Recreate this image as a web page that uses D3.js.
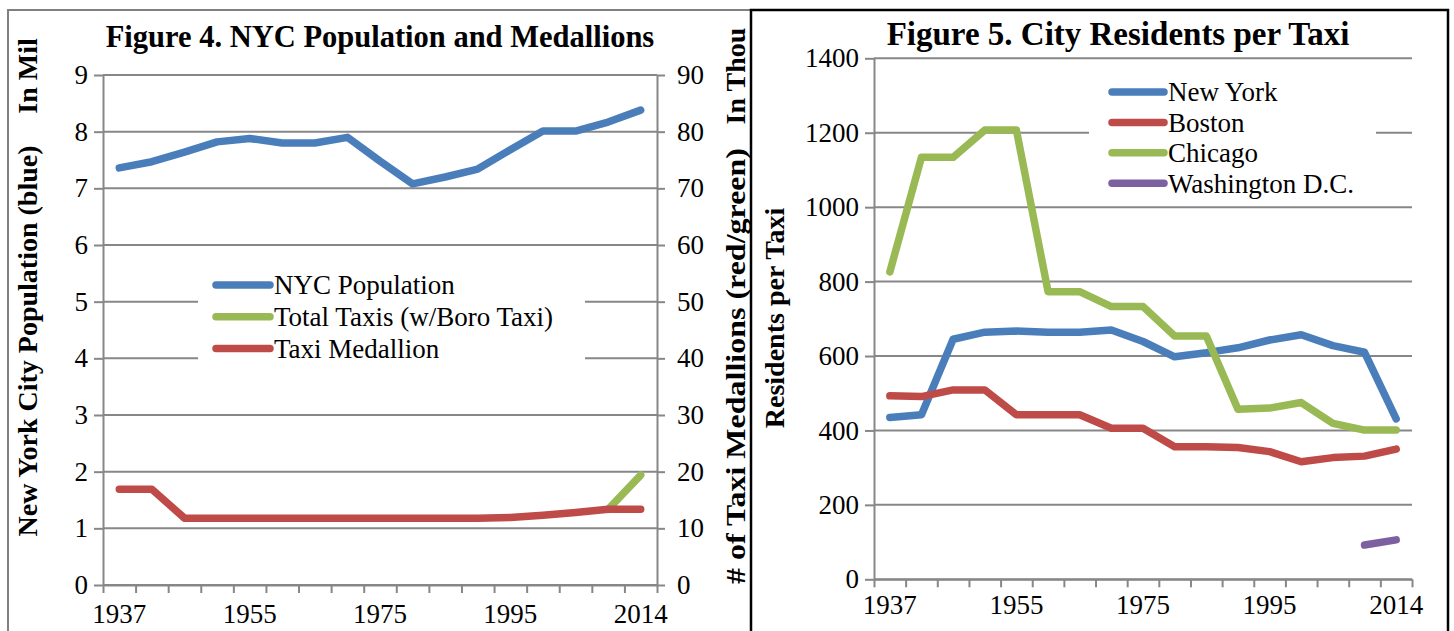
<!DOCTYPE html>
<html>
<head>
<meta charset="utf-8">
<script src="https://cdn.jsdelivr.net/npm/d3@7"></script>
<style>
  body { margin: 0; background: #fff; }
  svg { display: block; font-family: 'Liberation Serif', serif; }
  .tick text { fill: #000; }
</style>
</head>
<body>
<div id="main"></div>
<script>
// categories shared by both figures
const years = ['1937', '1940', '1945', '1950', '1955', '1960', '1965', '1970', '1975',
  '1980', '1985', '1990', '1995', '2000', '2005', '2010', '2014'];
const labelYears = ['1937', '1955', '1975', '1995', '2014'];

// figure 4 series (population in millions, taxis in thousands)
const nycPopulation = [7.36, 7.47, 7.64, 7.82, 7.88, 7.80, 7.80, 7.90, 7.48,
  7.08, 7.20, 7.34, 7.68, 8.01, 8.01, 8.17, 8.38];
const totalTaxis = [null, null, null, null, null, null, null, null, null,
  null, null, null, null, null, null, 13.35, 19.4];
const taxiMedallions = [16.9, 16.9, 11.8, 11.8, 11.8, 11.8, 11.8, 11.8, 11.8,
  11.8, 11.8, 11.8, 11.9, 12.3, 12.8, 13.35, 13.35];
const popTicks = [0, 1, 2, 3, 4, 5, 6, 7, 8, 9];
const taxiTicks = [0, 10, 20, 30, 40, 50, 60, 70, 80, 90];

// figure 5 series (residents per taxi)
const newYork = [435, 442, 645, 664, 667, 664, 664, 670, 639,
  598, 609, 622, 643, 657, 628, 610, 431];
const boston = [493, 491, 509, 509, 442, 442, 442, 406, 406,
  356, 356, 354, 343, 316, 327, 331, 350];
const chicago = [826, 1134, 1134, 1207, 1207, 773, 773, 733, 733,
  654, 654, 457, 460, 475, 419, 401, 401];
const washington = [null, null, null, null, null, null, null, null, null,
  null, null, null, null, null, null, 92, 106];
const residentTicks = [0, 200, 400, 600, 800, 1000, 1200, 1400];

// excel 2007 palette
const colors = { blue: '#4a7ebb', red: '#be4b48', green: '#98b954', purple: '#7d60a0' };
const gridColor = '#878787';

const width = 1454;
const height = 631;

const svg = d3.select('#main')
  .append('svg')
  .attr('width', width)
  .attr('height', height);

// panel frames
svg.append('path')
  .attr('d', `M8,${height} V10 H752`)
  .attr('fill', 'none')
  .attr('stroke', '#808080')
  .attr('stroke-width', 2);

// removes d3's default axis font so the serif face is used
function styleAxis(axis) {
  axis.attr('font-family', null).attr('font-size', null);
  axis.select('.domain').attr('stroke', gridColor).attr('stroke-width', 2);
  axis.selectAll('.tick line').attr('stroke', gridColor).attr('stroke-width', 2);
  axis.selectAll('text').style('font-size', '27px');
}

// draws a category line chart frame and returns the scales
function frame(g, opts) {
  const x = d3.scaleBand().domain(years).range([opts.x0, opts.x1]);
  const y = d3.scaleLinear().domain(opts.domain).range([opts.yBottom, opts.yTop]);
  // gridlines
  g.append('g')
    .selectAll('line')
    .data(opts.ticks)
    .join('line')
    .attr('x1', opts.x0)
    .attr('x2', opts.x1)
    .attr('y1', d => y(d))
    .attr('y2', d => y(d))
    .attr('stroke', gridColor)
    .attr('stroke-width', 2);
  // left value axis
  const yAxis = g.append('g')
    .attr('transform', `translate(${opts.x0},0)`)
    .call(d3.axisLeft(y).tickValues(opts.ticks).tickSize(9).tickPadding(6)
      .tickSizeOuter(0).tickFormat(d3.format('d')));
  styleAxis(yAxis);
  // boundary ticks between categories
  const edges = d3.scaleLinear().domain([0, years.length]).range([opts.x0, opts.x1]);
  const xTicks = g.append('g')
    .attr('transform', `translate(0,${opts.yBottom})`)
    .call(d3.axisBottom(edges).tickValues(d3.range(years.length + 1)).tickSize(8)
      .tickFormat('').tickSizeOuter(0));
  styleAxis(xTicks);
  // category labels every fourth year
  const xLabels = g.append('g')
    .attr('transform', `translate(0,${opts.yBottom})`)
    .call(d3.axisBottom(x).tickValues(labelYears).tickSize(0).tickPadding(opts.labelPad));
  styleAxis(xLabels);
  xLabels.select('.domain').remove();
  return { x, y };
}

// draws one series, skipping missing points
function series(g, x, y, values, color) {
  const line = d3.line()
    .defined(d => d !== null)
    .x((d, i) => x(years[i]) + x.bandwidth() / 2)
    .y(d => y(d));
  g.append('path')
    .datum(values)
    .attr('d', line)
    .attr('fill', 'none')
    .attr('stroke', color)
    .attr('stroke-width', 7.5)
    .attr('stroke-linecap', 'round')
    .attr('stroke-linejoin', 'round');
}

// legend with white box covering gridlines
function legend(g, box, items) {
  g.append('rect')
    .attr('x', box.x)
    .attr('y', box.y)
    .attr('width', box.w)
    .attr('height', box.h)
    .attr('fill', '#fff');
  const rows = g.selectAll('.item')
    .data(items)
    .join('g')
    .attr('transform', (d, i) => `translate(${box.lx},${box.ly + i * box.step})`);
  rows.append('line')
    .attr('x1', 0)
    .attr('x2', box.sw)
    .attr('stroke', d => d.color)
    .attr('stroke-width', 7.5)
    .attr('stroke-linecap', 'round');
  rows.append('text')
    .attr('x', box.sw + 4)
    .attr('dy', '0.35em')
    .style('font-size', '27px')
    .text(d => d.name);
}

function title(g, x, y, size, text) {
  g.append('text')
    .attr('x', x)
    .attr('y', y)
    .style('font-size', `${size}px`)
    .style('font-weight', 'bold')
    .style('text-anchor', 'middle')
    .text(text);
}

// rotated axis title; span stretches the text along its run when given
function vTitle(g, x, y, text, span) {
  const t = g.append('text')
    .attr('transform', `translate(${x},${y}) rotate(-90)`)
    .style('font-size', '28px')
    .style('font-weight', 'bold')
    .style('text-anchor', 'middle')
    .text(text);
  if (span) {
    t.attr('textLength', span).attr('lengthAdjust', 'spacingAndGlyphs');
  }
}

// Figure 4
const fig4 = svg.append('g');
const f4 = frame(fig4, { x0: 103, x1: 657, yTop: 75, yBottom: 585, domain: [0, 9], ticks: popTicks, labelPad: 19 });
const yTaxi = d3.scaleLinear().domain([0, 90]).range([585, 75]);
const rightAxis = fig4.append('g')
  .attr('transform', 'translate(657,0)')
  .call(d3.axisRight(yTaxi).tickValues(taxiTicks).tickSize(8).tickPadding(12).tickSizeOuter(0));
styleAxis(rightAxis);
legend(fig4, { x: 198, y: 266, w: 387, h: 100, lx: 216, ly: 285, step: 31.7, sw: 54 }, [
  { name: 'NYC Population', color: colors.blue },
  { name: 'Total Taxis (w/Boro Taxi)', color: colors.green },
  { name: 'Taxi Medallion', color: colors.red }
]);
series(fig4, f4.x, f4.y, nycPopulation, colors.blue);
series(fig4, f4.x, yTaxi, totalTaxis, colors.green);
series(fig4, f4.x, yTaxi, taxiMedallions, colors.red);
title(fig4, 380, 47, 30.5, 'Figure 4. NYC Population and Medallions');
vTitle(fig4, 37, 76, 'In Mil');
vTitle(fig4, 37, 341, 'New York City Population (blue)');
vTitle(fig4, 745, 76, 'In Thou');
vTitle(fig4, 745, 366, '# of Taxi Medallions (red/green)', 436);

// Figure 5 panel
const fig5 = svg.append('g');
fig5.append('rect')
  .attr('x', 751)
  .attr('y', 10)
  .attr('width', 697)
  .attr('height', height)
  .attr('fill', '#fff')
  .attr('stroke', '#000')
  .attr('stroke-width', 2.5);
const f5 = frame(fig5, { x0: 874, x1: 1412, yTop: 58.3, yBottom: 579.3, domain: [0, 1400], ticks: residentTicks, labelPad: 16 });
legend(fig5, { x: 1089, y: 74, w: 287, h: 124, lx: 1112, ly: 92, step: 30.4, sw: 52 }, [
  { name: 'New York', color: colors.blue },
  { name: 'Boston', color: colors.red },
  { name: 'Chicago', color: colors.green },
  { name: 'Washington D.C.', color: colors.purple }
]);
series(fig5, f5.x, f5.y, newYork, colors.blue);
series(fig5, f5.x, f5.y, boston, colors.red);
series(fig5, f5.x, f5.y, chicago, colors.green);
series(fig5, f5.x, f5.y, washington, colors.purple);
title(fig5, 1118, 45, 33, 'Figure 5. City Residents per Taxi');
vTitle(fig5, 784, 318, 'Residents per Taxi');
</script>
</body>
</html>
